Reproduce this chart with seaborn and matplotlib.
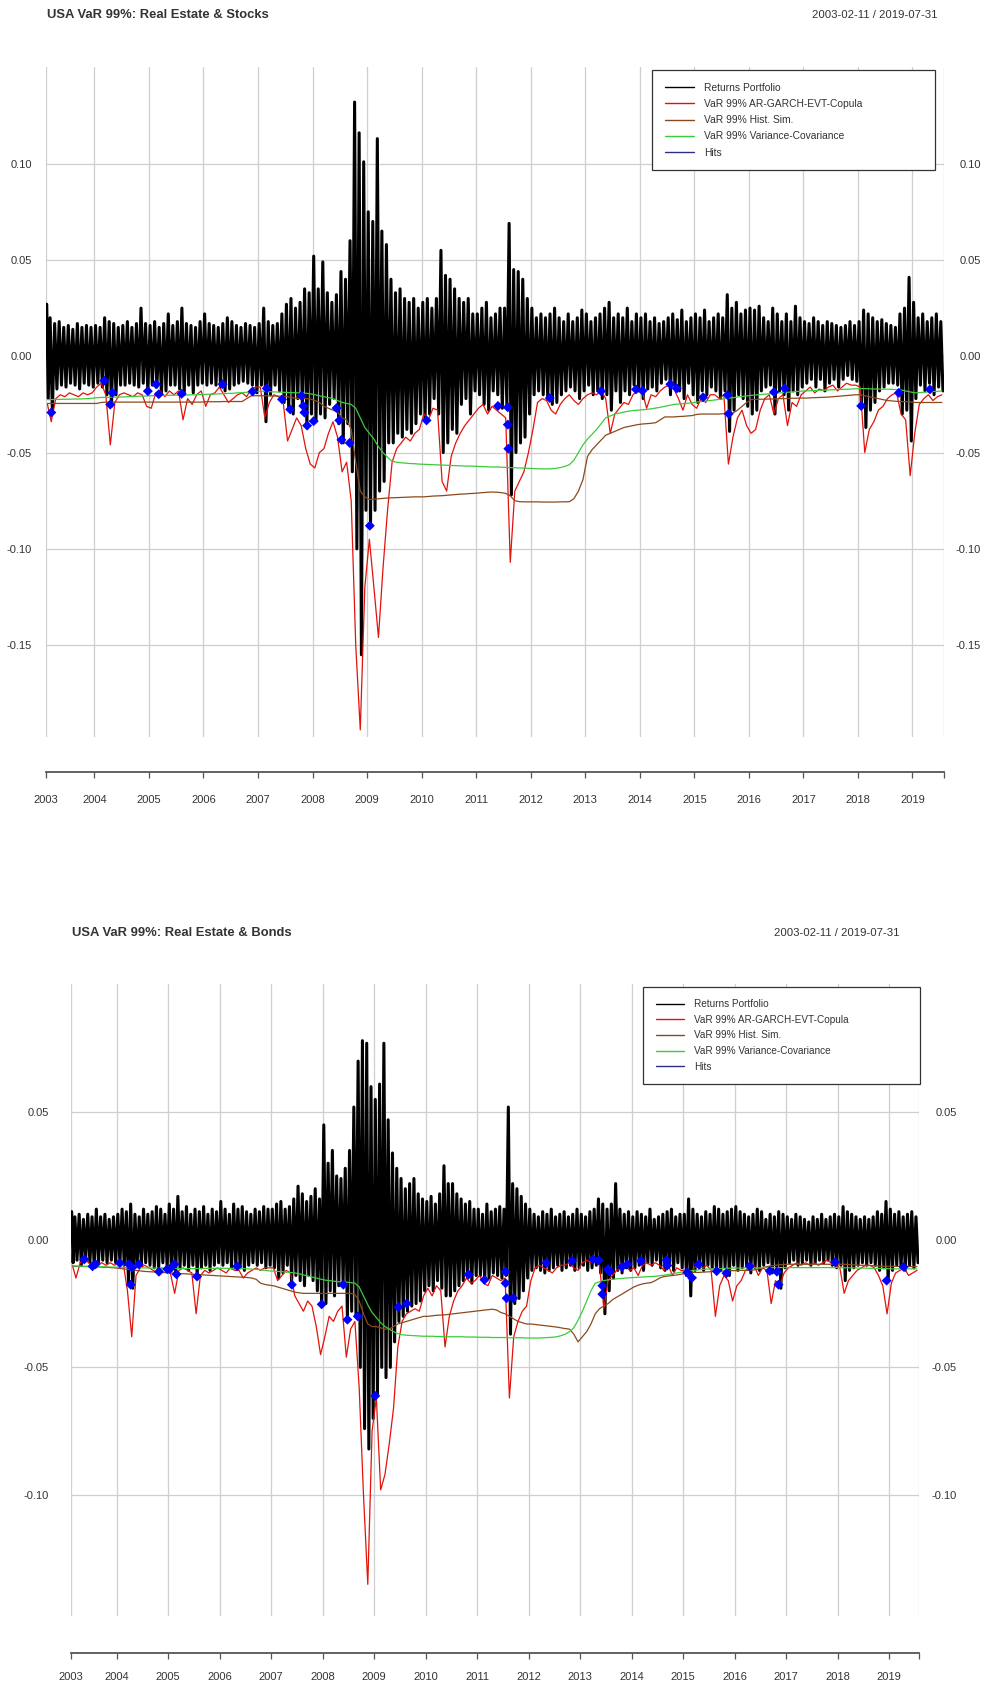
import numpy as np
import pandas as pd
import matplotlib
matplotlib.use("Agg")
import matplotlib.pyplot as plt
import matplotlib.transforms as mtrans
import seaborn as sns
from matplotlib.lines import Line2D

# ------------------------------------------------------------------
# DATA  (monthly values, in thousandths: -25 means -0.025)
# months run from 2003-02 to 2019-07 (11 + 15*12 + 7 = 198 months)
# ------------------------------------------------------------------
first_month = "2003-02"
last_month = "2019-07"
period_label = "2003-02-11 / 2019-07-31"
period_start = 2003 + 41 / 365   # 2003-02-11
period_end = 2019 + 211 / 365    # 2019-07-31
year_labels = [str(y) for y in range(2003, 2020)]

series_labels = ["Returns Portfolio", "VaR 99% AR-GARCH-EVT-Copula",
                 "VaR 99% Hist. Sim.", "VaR 99% Variance-Covariance", "Hits"]

# ---------------- Real Estate & Stocks ----------------
stocks_title = "USA VaR 99%: Real Estate & Stocks"
stocks_ret_high = [
    27, 20, 17, 18, 15, 16, 14, 17, 15, 16, 15,
    16, 15, 20, 18, 17, 15, 16, 18, 15, 17, 25, 17,
    16, 18, 15, 17, 22, 16, 18, 25, 17, 16, 15, 18,
    22, 17, 16, 15, 17, 20, 18, 16, 15, 17, 16, 15,
    17, 25, 18, 16, 17, 22, 27, 30, 25, 28, 35, 33,
    52, 35, 49, 33, 28, 32, 44, 40, 60, 132, 116, 101,
    75, 70, 113, 65, 58, 40, 33, 35, 30, 28, 30, 25,
    28, 30, 25, 30, 55, 42, 40, 35, 30, 28, 30, 22,
    22, 25, 28, 20, 22, 25, 25, 69, 45, 44, 40, 30,
    25, 20, 22, 20, 22, 25, 20, 18, 22, 18, 20, 24,
    22, 18, 20, 22, 25, 28, 20, 22, 20, 25, 18, 22,
    20, 22, 18, 20, 17, 18, 20, 22, 19, 24, 18, 20,
    22, 20, 24, 18, 20, 22, 20, 32, 25, 28, 22, 24,
    25, 24, 26, 20, 18, 25, 22, 18, 22, 18, 26, 20,
    18, 17, 20, 18, 16, 18, 17, 16, 15, 16, 18, 16,
    18, 24, 22, 20, 18, 19, 17, 16, 15, 22, 25, 41,
    28, 20, 22, 18, 20, 22, 18,
]
stocks_ret_low = [
    -22, -29, -17, -15, -16, -14, -15, -17, -14, -15, -16,
    -14, -16, -20, -26, -20, -15, -15, -14, -15, -16, -14, -18,
    -15, -16, -20, -18, -15, -15, -17, -20, -15, -19, -15, -14,
    -15, -14, -15, -16, -18, -17, -15, -14, -13, -14, -15, -19,
    -15, -34, -20, -15, -18, -24, -28, -30, -22, -26, -36, -30,
    -34, -30, -32, -25, -22, -35, -45, -35, -60, -100, -155, -80,
    -88, -80, -70, -65, -45, -45, -40, -42, -38, -40, -35, -30,
    -33, -30, -22, -30, -50, -45, -38, -40, -25, -22, -30, -18,
    -20, -25, -28, -18, -20, -27, -25, -72, -50, -45, -42, -30,
    -20, -18, -20, -22, -25, -24, -20, -18, -16, -18, -22, -18,
    -15, -20, -18, -22, -20, -28, -18, -24, -18, -20, -15, -18,
    -22, -17, -16, -18, -14, -12, -20, -17, -18, -22, -14, -20,
    -24, -18, -20, -16, -18, -22, -18, -39, -28, -20, -22, -26,
    -30, -28, -18, -16, -15, -30, -18, -20, -28, -18, -20, -16,
    -14, -12, -16, -12, -18, -14, -12, -16, -12, -10, -12, -13,
    -26, -37, -28, -24, -18, -16, -14, -14, -15, -30, -28, -44,
    -22, -15, -18, -14, -20, -16, -18,
]
stocks_var_copula = [
    -25, -34, -22, -20, -21, -19, -20, -21, -19, -20, -19,
    -16, -14, -20, -46, -24, -20, -19, -20, -21, -19, -20, -26,
    -27, -19, -18, -21, -18, -20, -18, -33, -22, -25, -20, -18,
    -26, -20, -19, -16, -20, -24, -22, -20, -19, -21, -17, -16,
    -16, -32, -24, -20, -21, -23, -44, -38, -32, -36, -48, -56,
    -58, -50, -48, -40, -34, -42, -60, -55, -75, -150, -194, -120,
    -95, -120, -146, -110, -80, -55, -48, -45, -42, -44, -40, -38,
    -30, -33, -27, -28, -65, -70, -52, -45, -40, -36, -33, -30,
    -27, -25, -30, -26, -28, -30, -32, -107, -70, -65, -60, -50,
    -38, -24, -22, -23, -28, -30, -25, -22, -20, -23, -25, -22,
    -20, -19, -20, -18, -22, -40, -30, -27, -24, -25, -20, -18,
    -18, -27, -20, -21, -18, -16, -15, -17, -22, -28, -20, -25,
    -27, -22, -24, -20, -20, -22, -20, -56, -42, -32, -28, -36,
    -40, -38, -28, -22, -20, -30, -22, -20, -36, -24, -26, -20,
    -18, -16, -19, -17, -18, -16, -15, -18, -16, -14, -15, -15,
    -16, -50, -38, -34, -28, -26, -22, -20, -19, -30, -33, -62,
    -40, -25, -22, -20, -23, -21, -20,
]
stocks_var_hist = [
    -24.5, -24.5, -24.5, -24.5, -24.5, -24.5, -24.5, -24.5, -24.5, -24.5, -24.5,
    -24.5, -24.0, -23.8, -23.8, -23.8, -23.8, -23.8, -23.8, -23.8, -23.8, -23.8, -23.8,
    -23.8, -23.8, -23.8, -23.8, -23.8, -23.8, -23.8, -23.8, -23.8, -23.8, -23.8, -23.8,
    -23.6, -23.6, -23.6, -23.6, -23.5, -23.5, -23.5, -23.5, -23.5, -22.0, -20.5, -20.5,
    -20.5, -20.5, -20.6, -20.6, -20.7, -20.8, -21.0, -21.5, -21.8, -22.0, -22.0, -22.2,
    -23.0, -24.0, -26.0, -27.0, -28.0, -29.0, -32.0, -33.0, -38.0, -55.0, -70.0, -73.0,
    -74.4, -74.2, -74.0, -73.8, -73.6, -73.5, -73.4, -73.3, -73.2, -73.1, -73.0, -73.0,
    -73.0, -72.8, -72.6, -72.5, -72.4, -72.2, -72.0, -71.8, -71.6, -71.5, -71.3, -71.2,
    -71.0, -70.8, -70.6, -70.5, -70.6, -70.8, -71.2, -72.5, -75.0, -75.5, -75.6, -75.6,
    -75.6, -75.6, -75.7, -75.7, -75.7, -75.7, -75.6, -75.6, -75.5, -74.0, -70.0, -64.0,
    -52.0, -48.5, -46.0, -43.5, -41.0, -40.0, -39.0, -38.0, -37.0, -36.5, -36.0, -35.5,
    -35.2, -35.0, -34.8, -34.5, -33.0, -31.5, -31.5, -31.5, -31.3, -31.2, -31.0, -30.8,
    -30.2, -30.0, -30.0, -30.0, -30.0, -30.0, -29.8, -29.5, -29.5, -28.0, -26.0, -24.0,
    -22.5, -22.4, -22.3, -22.3, -22.2, -22.2, -22.0, -22.0, -21.9, -21.8, -21.8, -21.7,
    -21.7, -21.6, -21.5, -21.4, -21.3, -21.2, -21.0, -20.8, -20.6, -20.4, -20.2, -20.0,
    -20.0, -20.5, -21.0, -21.5, -22.0, -22.5, -23.0, -23.2, -23.4, -23.5, -23.6, -23.7,
    -24.0, -24.0, -24.0, -24.0, -24.0, -24.0, -24.0,
]
stocks_var_varcov = [
    -22.5, -22.5, -22.4, -22.4, -22.3, -22.3, -22.2, -22.2, -22.1, -22.0, -21.8,
    -21.5, -21.4, -21.3, -21.3, -21.2, -21.2, -21.1, -21.0, -20.9, -20.8, -20.7, -20.6,
    -20.5, -20.4, -20.4, -20.3, -20.3, -20.2, -20.2, -20.1, -20.1, -20.0, -20.0, -19.9,
    -19.8, -19.7, -19.6, -19.5, -19.4, -19.3, -19.2, -19.0, -18.9, -18.7, -18.5, -18.3,
    -18.2, -18.3, -18.4, -18.5, -18.6, -18.7, -18.8, -18.9, -19.0, -19.0, -19.2, -19.5,
    -20.0, -20.5, -21.0, -21.5, -22.0, -23.0, -24.0, -24.5, -25.0, -27.0, -32.0, -37.0,
    -40.0, -43.0, -47.0, -50.0, -52.5, -54.5, -55.0, -55.3, -55.5, -55.7, -55.8, -56.0,
    -56.1, -56.2, -56.3, -56.4, -56.5, -56.6, -56.7, -56.8, -56.9, -57.0, -57.0, -57.1,
    -57.2, -57.3, -57.4, -57.5, -57.5, -57.6, -57.7, -57.8, -57.9, -58.0, -58.1, -58.2,
    -58.3, -58.4, -58.5, -58.5, -58.4, -58.2, -57.8, -57.2, -56.3, -54.0, -50.0, -46.0,
    -43.0, -40.5, -38.0, -35.0, -32.0, -31.0, -30.0, -29.5, -29.0, -28.5, -28.2, -28.0,
    -27.8, -27.6, -27.3, -26.9, -26.5, -26.0, -25.5, -25.0, -24.8, -24.6, -24.4, -24.2,
    -23.8, -23.5, -23.2, -23.0, -22.7, -22.4, -22.1, -21.8, -21.5, -21.2, -20.9, -20.6,
    -20.3, -20.1, -19.9, -19.7, -19.5, -19.3, -19.1, -18.9, -18.7, -18.5, -18.3, -18.1,
    -18.0, -17.9, -17.8, -17.7, -17.6, -17.5, -17.4, -17.3, -17.2, -17.1, -17.0, -16.9,
    -16.8, -16.8, -16.9, -17.0, -17.0, -17.1, -17.1, -17.2, -17.3, -17.5, -18.0, -18.5,
    -19.0, -18.9, -18.7, -18.5, -18.3, -18.2, -18.0,
]
stocks_hit_dates = [
    2003.21, 2004.18, 2004.29, 2004.33, 2004.98, 2005.13, 2005.18, 2005.60, 2006.35,
    2006.90, 2007.16, 2007.44, 2007.59, 2007.80, 2007.83, 2007.85, 2007.90, 2008.02,
    2008.44, 2008.49, 2008.53, 2008.68, 2009.05, 2010.09, 2011.40, 2011.58, 2011.58,
    2011.59, 2012.35, 2013.29, 2013.93, 2014.05, 2014.56, 2014.68, 2015.16, 2015.61,
    2015.63, 2016.46, 2016.66, 2018.06, 2018.75, 2019.32,
]
stocks_hit_values = [
    -29.2, -12.7, -25.1, -19.0, -18.1, -14.5, -19.7, -19.5, -14.5,
    -18.3, -16.7, -22.4, -27.6, -20.6, -25.8, -29.2, -36.0, -33.7,
    -26.9, -33.3, -43.4, -45.0, -88.0, -33.3, -25.8, -26.5, -35.5,
    -48.0, -21.7, -18.1, -17.2, -17.9, -14.5, -16.7, -21.3, -20.1,
    -29.9, -18.6, -16.7, -25.8, -19.0, -17.2,
]
stocks_yticks = [0.10, 0.05, 0.00, -0.05, -0.10, -0.15]
stocks_ylim = (-0.1977, 0.1502)

# ---------------- Real Estate & Bonds ----------------
bonds_title = "USA VaR 99%: Real Estate & Bonds"
bonds_ret_high = [
    11, 9, 10, 8, 10, 9, 12, 9, 10, 8, 9,
    10, 12, 11, 14, 10, 9, 12, 10, 11, 13, 12, 10,
    14, 12, 17, 11, 13, 10, 12, 11, 13, 10, 12, 11,
    15, 12, 10, 14, 12, 13, 11, 10, 12, 11, 13, 12,
    12, 14, 15, 12, 13, 16, 21, 18, 15, 17, 20, 16,
    45, 30, 35, 25, 24, 28, 35, 52, 70, 78, 77, 60,
    55, 61, 77, 47, 34, 28, 24, 20, 22, 24, 18, 16,
    15, 17, 14, 18, 29, 22, 22, 18, 16, 14, 15, 12,
    12, 10, 14, 11, 12, 13, 12, 52, 22, 20, 17, 14,
    12, 10, 9, 11, 10, 12, 9, 10, 11, 9, 10, 12,
    10, 9, 11, 12, 16, 14, 12, 14, 22, 12, 10, 11,
    9, 11, 10, 9, 12, 8, 9, 10, 11, 12, 9, 10,
    10, 16, 12, 10, 9, 11, 10, 13, 12, 10, 11, 12,
    13, 11, 10, 9, 10, 12, 11, 8, 10, 9, 11, 10,
    9, 8, 10, 9, 8, 7, 9, 8, 10, 8, 9, 10,
    9, 13, 11, 10, 9, 8, 9, 8, 9, 11, 10, 15,
    12, 10, 11, 9, 10, 11, 9,
]
bonds_ret_low = [
    -9, -8, -10, -8, -9, -10, -9, -8, -9, -8, -9,
    -9, -10, -17, -19, -10, -10, -9, -10, -11, -12, -9, -11,
    -12, -13, -11, -10, -12, -10, -14, -11, -10, -12, -10, -9,
    -10, -9, -11, -10, -11, -12, -10, -9, -10, -9, -11, -10,
    -11, -15, -13, -10, -17, -14, -16, -18, -14, -16, -20, -25,
    -25, -20, -22, -18, -17, -31, -28, -30, -50, -74, -82, -70,
    -61, -50, -54, -50, -40, -32, -30, -28, -26, -25, -24, -20,
    -18, -20, -16, -19, -22, -22, -20, -18, -16, -15, -17, -14,
    -14, -16, -15, -13, -14, -15, -14, -37, -25, -23, -20, -15,
    -12, -11, -12, -13, -12, -11, -10, -12, -11, -10, -12, -11,
    -10, -12, -11, -10, -13, -29, -20, -15, -12, -13, -11, -12,
    -11, -10, -12, -9, -10, -8, -11, -12, -10, -12, -9, -11,
    -14, -22, -12, -11, -12, -10, -11, -13, -12, -11, -14, -10,
    -12, -11, -10, -13, -11, -12, -10, -9, -13, -12, -19, -11,
    -9, -8, -10, -9, -8, -10, -9, -8, -9, -8, -10, -11,
    -10, -16, -12, -11, -10, -9, -10, -9, -10, -12, -11, -16,
    -12, -10, -11, -12, -10, -11, -9,
]
bonds_var_copula = [
    -10, -15, -9, -8, -9, -11, -10, -9, -10, -9, -10,
    -9, -9, -20, -38, -14, -11, -10, -11, -12, -13, -11, -12,
    -13, -21, -12, -11, -12, -13, -29, -14, -12, -13, -12, -11,
    -12, -13, -11, -12, -12, -15, -13, -12, -11, -12, -11, -11,
    -11, -16, -14, -12, -13, -22, -25, -28, -24, -26, -34, -45,
    -38, -30, -32, -28, -26, -46, -35, -32, -58, -100, -135, -75,
    -62, -98, -92, -80, -66, -42, -32, -29, -28, -27, -28, -22,
    -19, -22, -18, -20, -42, -30, -24, -20, -18, -15, -17, -16,
    -14, -17, -18, -14, -15, -16, -15, -62, -38, -32, -28, -26,
    -16, -11, -10, -11, -12, -13, -11, -10, -10, -9, -11, -12,
    -9, -8, -9, -8, -10, -27, -16, -14, -12, -11, -10, -12,
    -11, -14, -10, -9, -10, -9, -10, -12, -10, -14, -11, -12,
    -12, -15, -11, -10, -11, -10, -12, -30, -18, -14, -16, -24,
    -18, -16, -12, -11, -10, -14, -11, -12, -25, -16, -18, -13,
    -11, -10, -9, -10, -9, -10, -9, -10, -9, -8, -9, -10,
    -11, -21, -16, -14, -12, -11, -10, -10, -11, -14, -18, -29,
    -17, -13, -12, -11, -14, -13, -12,
]
bonds_var_hist = [
    -10.3, -10.4, -10.4, -10.5, -10.5, -10.6, -10.6, -10.7, -10.8, -10.9, -11.0,
    -11.2, -11.4, -11.6, -11.8, -12.0, -12.2, -12.4, -12.5, -12.6, -12.7, -12.8, -12.9,
    -13.0, -13.1, -13.2, -13.3, -13.4, -13.5, -13.6, -13.7, -13.8, -13.9, -14.0, -14.1,
    -14.2, -14.3, -14.4, -14.5, -14.6, -14.7, -14.8, -15.0, -15.5, -17.0, -17.5, -17.8,
    -18.0, -18.5, -19.0, -19.5, -20.0, -20.5, -20.8, -21.0, -21.0, -21.0, -21.0, -21.0,
    -21.0, -21.0, -21.0, -21.0, -21.0, -21.0, -21.0, -21.5, -24.0, -29.0, -33.0, -34.0,
    -34.0, -34.5, -35.0, -35.0, -34.0, -33.0, -32.5, -32.0, -31.5, -31.0, -30.5, -30.0,
    -30.0, -29.8, -29.6, -29.5, -29.4, -29.2, -29.0, -28.8, -28.6, -28.4, -28.2, -28.0,
    -27.8, -27.6, -27.4, -27.2, -27.5, -28.5, -29.0, -30.0, -31.0, -32.0, -32.5, -33.0,
    -33.0, -33.2, -33.4, -33.6, -33.8, -34.0, -34.2, -34.5, -34.8, -35.0, -37.0, -40.0,
    -38.0, -36.0, -33.0, -29.0, -27.0, -26.0, -25.0, -23.5, -22.5, -21.5, -20.5, -19.5,
    -18.5, -17.8, -17.3, -17.0, -16.8, -16.0, -15.0, -14.4, -14.2, -14.0, -13.8, -13.5,
    -13.2, -13.0, -12.8, -12.8, -12.7, -12.6, -12.5, -12.4, -12.3, -12.2, -12.2, -12.1,
    -12.1, -12.0, -12.0, -12.0, -11.8, -11.5, -11.0, -10.5, -10.2, -10.0, -9.8, -9.7,
    -9.6, -9.6, -9.6, -9.6, -9.6, -9.6, -9.6, -9.6, -9.6, -9.6, -9.6, -9.6,
    -9.6, -9.6, -9.7, -9.8, -9.9, -10.0, -10.0, -10.1, -10.2, -10.3, -10.4, -10.4,
    -10.4, -10.4, -10.5, -10.5, -10.5, -10.5, -10.5,
]
bonds_var_varcov = [
    -10.2, -10.3, -10.3, -10.4, -10.4, -10.5, -10.5, -10.6, -10.6, -10.7, -10.7,
    -10.8, -10.8, -10.9, -10.9, -11.0, -11.0, -11.0, -11.1, -11.1, -11.1, -11.2, -11.2,
    -11.2, -11.2, -11.3, -11.3, -11.3, -11.3, -11.3, -11.3, -11.2, -11.2, -11.2, -11.2,
    -11.2, -11.2, -11.2, -11.2, -11.3, -11.3, -11.4, -11.5, -11.6, -11.8, -12.0, -12.2,
    -12.3, -12.4, -12.5, -12.7, -12.8, -13.0, -13.3, -13.8, -14.2, -14.6, -15.0, -15.4,
    -15.8, -16.0, -16.2, -16.4, -16.5, -16.6, -16.8, -17.0, -18.5, -22.0, -25.5, -28.5,
    -30.5, -32.5, -34.0, -35.0, -36.0, -36.8, -37.2, -37.4, -37.5, -37.6, -37.7, -37.8,
    -37.8, -37.8, -37.9, -37.9, -38.0, -38.0, -38.0, -38.0, -38.0, -38.1, -38.1, -38.1,
    -38.2, -38.2, -38.2, -38.3, -38.3, -38.3, -38.3, -38.4, -38.4, -38.4, -38.4, -38.5,
    -38.5, -38.5, -38.5, -38.4, -38.3, -38.2, -38.0, -37.6, -37.0, -36.0, -34.5, -31.5,
    -28.0, -24.0, -20.0, -17.0, -16.5, -16.0, -15.7, -15.5, -15.3, -15.2, -15.0, -14.9,
    -14.8, -14.7, -14.6, -14.5, -14.4, -14.3, -14.1, -13.9, -13.6, -13.3, -13.0, -12.7,
    -12.4, -12.2, -12.0, -11.8, -11.6, -11.5, -11.4, -11.3, -11.3, -11.2, -11.2, -11.1,
    -11.1, -11.1, -11.0, -11.0, -11.0, -11.0, -10.9, -10.9, -10.9, -10.9, -10.9, -10.9,
    -10.9, -10.9, -10.9, -10.9, -10.9, -10.9, -10.9, -10.9, -10.9, -10.9, -10.9, -10.9,
    -10.9, -11.0, -11.0, -11.0, -11.1, -11.1, -11.1, -11.2, -11.2, -11.2, -11.3, -11.3,
    -11.4, -11.4, -11.4, -11.4, -11.4, -11.4, -11.4,
]
bonds_hit_dates = [
    2003.37, 2003.53, 2003.59, 2004.06, 2004.24, 2004.27, 2004.30, 2004.43, 2004.82,
    2004.98, 2005.03, 2005.12, 2005.16, 2005.56, 2006.34, 2007.40, 2007.98, 2008.40,
    2008.48, 2008.68, 2009.02, 2009.47, 2009.63, 2010.83, 2011.14, 2011.55, 2011.55,
    2011.57, 2011.70, 2012.34, 2012.84, 2013.25, 2013.36, 2013.43, 2013.43, 2013.54,
    2013.57, 2013.81, 2013.92, 2014.18, 2014.68, 2014.69, 2015.08, 2015.17, 2015.30,
    2015.65, 2015.84, 2016.29, 2016.68, 2016.82, 2016.85, 2017.95, 2018.95, 2019.28,
]
bonds_hit_values = [
    -7.7, -10.4, -9.6, -9.1, -9.6, -17.6, -10.9, -9.6, -12.5,
    -11.5, -11.5, -9.6, -13.5, -14.4, -10.4, -17.6, -25.3, -17.6,
    -31.3, -30.0, -61.2, -26.4, -25.0, -13.6, -15.7, -12.5, -17.0,
    -22.9, -22.9, -9.1, -8.3, -7.7, -8.0, -18.0, -21.3, -11.5,
    -12.5, -10.6, -9.6, -8.3, -8.0, -10.1, -12.8, -14.9, -9.6,
    -12.3, -13.1, -10.4, -12.2, -12.5, -17.6, -8.8, -16.0, -10.6,
]
bonds_yticks = [0.05, 0.00, -0.05, -0.10]
bonds_ylim = (-0.1474, 0.1002)

# ------------------------------------------------------------------
# STYLE
# ------------------------------------------------------------------
C_RET = "#000000"
C_COP = "#E3120B"
C_HIST = "#8B4A1C"
C_VC = "#3CCB3C"
C_HIT = "#0000FF"
C_HIT_LEG = "#2E2E8A"
C_TEXT = "#333333"
C_GRID = "#CFCFCF"

sns.set_theme(style="white")
plt.rcParams["font.family"] = ["Liberation Sans", "DejaVu Sans"]
plt.rcParams["axes.unicode_minus"] = False

W, H = 986, 1686
fig = plt.figure(figsize=(W / 100, H / 100), dpi=100)


def px_box(left, top, right, bottom):
    return [left / W, 1 - bottom / H, (right - left) / W, (bottom - top) / H]


months = pd.period_range(first_month, last_month, freq="M")
m_left = np.maximum(months.year + (months.month - 1) / 12.0, period_start)
m_right = np.minimum(months.year + months.month / 12.0, period_end)
m_mid = (m_left + m_right) / 2.0


def draw_panel(cfg):
    hi = np.asarray(cfg["ret_high"], float) / 1000
    lo = np.asarray(cfg["ret_low"], float) / 1000
    cop = np.asarray(cfg["cop"], float) / 1000
    hist = np.asarray(cfg["hist"], float) / 1000
    vc = np.asarray(cfg["vc"], float) / 1000
    for arr in (hi, lo, cop, hist, vc):
        assert len(arr) == len(months), len(arr)
    hx = np.asarray(cfg["hit_x"], float)
    hy = np.asarray(cfg["hit_y"], float) / 1000

    ax = fig.add_axes(px_box(*cfg["box"]))
    ax.set_axisbelow(True)

    # returns: monthly high/low drawn as a dense zig-zag
    w = m_right - m_left
    zx = np.column_stack([m_left + 0.25 * w, m_left + 0.75 * w]).ravel()
    zy = np.column_stack([hi, lo]).ravel()
    sns.lineplot(x=zx, y=zy, sort=False, estimator=None, color=C_RET,
                 lw=2.2, ax=ax, zorder=2)
    sns.lineplot(x=m_mid, y=cop, sort=False, estimator=None, color=C_COP,
                 lw=0.9, ax=ax, zorder=3)
    sns.lineplot(x=m_mid, y=hist, sort=False, estimator=None, color=C_HIST,
                 lw=0.9, ax=ax, zorder=3.1)
    sns.lineplot(x=m_mid, y=vc, sort=False, estimator=None, color=C_VC,
                 lw=0.9, ax=ax, zorder=3.2)
    sns.scatterplot(x=hx, y=hy, marker="D", s=26, color=C_HIT,
                    edgecolor="none", ax=ax, zorder=5)

    ax.set_xlim(period_start, period_end)
    ax.set_ylim(*cfg["ylim"])

    xt = [period_start] + list(range(2004, 2020)) + [period_end]
    ax.set_xticks(xt)
    ax.set_xticklabels(year_labels + [""])
    ax.set_yticks(cfg["yticks"])
    ax.set_yticklabels([f"{v:.2f}" for v in cfg["yticks"]])

    ax.grid(True, color=C_GRID, lw=0.9)
    for s in ("left", "right", "top"):
        ax.spines[s].set_visible(False)
    ax.spines["bottom"].set_position(("outward", cfg["axis_gap"] * 0.72))
    ax.spines["bottom"].set_color("#555555")
    ax.spines["bottom"].set_linewidth(1.3)

    ax.tick_params(axis="x", bottom=True, direction="out", length=4.3,
                   width=0.9, color="#555555", pad=cfg["xpad"],
                   labelsize=8, labelcolor=C_TEXT)
    ax.tick_params(axis="y", length=0, labelleft=True, labelright=True,
                   labelsize=8, labelcolor=C_TEXT, pad=cfg["ypad_left"])
    off = mtrans.ScaledTranslation(cfg["ypad_right"] / 72.0, 0, fig.dpi_scale_trans)
    for t in ax.yaxis.get_major_ticks():
        t.label1.set_horizontalalignment("right")
        t.label2.set_horizontalalignment("right")
        t.label2.set_transform(ax.get_yaxis_transform(which="tick2") + off)
    ax.set_xlabel("")
    ax.set_ylabel("")

    # titles
    fig.text(cfg["title_xy"][0] / W, 1 - cfg["title_xy"][1] / H, cfg["title"],
             ha="left", va="center", fontsize=9.4, fontweight="bold", color=C_TEXT)
    fig.text(cfg["date_xy"][0] / W, 1 - cfg["date_xy"][1] / H, period_label,
             ha="right", va="center", fontsize=8.2, color=C_TEXT)

    # legend
    handles = [Line2D([], [], color=c, lw=1.0)
               for c in (C_RET, C_COP, C_HIST, C_VC, C_HIT_LEG)]
    lx0, ltop, lx1 = cfg["legend"]
    leg = ax.legend(handles, series_labels, loc="upper left",
                    bbox_to_anchor=(lx0 / W, 1 - ltop / H, (lx1 - lx0) / W, 0),
                    bbox_transform=fig.transFigure, mode="expand",
                    fontsize=cfg["leg_fs"], frameon=True, fancybox=False,
                    edgecolor="#333333", framealpha=1, borderpad=1.25,
                    handlelength=2.8, handletextpad=1.05,
                    labelspacing=cfg["leg_ls"], borderaxespad=0)
    leg.get_frame().set_linewidth(0.9)
    for t in leg.get_texts():
        t.set_color(C_TEXT)
    leg.set_zorder(10)
    return ax


stocks_cfg = dict(
    title=stocks_title, ret_high=stocks_ret_high, ret_low=stocks_ret_low,
    cop=stocks_var_copula, hist=stocks_var_hist, vc=stocks_var_varcov,
    hit_x=stocks_hit_dates, hit_y=stocks_hit_values,
    yticks=stocks_yticks, ylim=stocks_ylim,
    box=(46, 67, 944, 737), axis_gap=35, xpad=12,
    ypad_left=10, ypad_right=26.6,
    title_xy=(47, 15), date_xy=(937, 15),
    legend=(652, 70, 935), leg_fs=7.4, leg_ls=0.6,
)
bonds_cfg = dict(
    title=bonds_title, ret_high=bonds_ret_high, ret_low=bonds_ret_low,
    cop=bonds_var_copula, hist=bonds_var_hist, vc=bonds_var_varcov,
    hit_x=bonds_hit_dates, hit_y=bonds_hit_values,
    yticks=bonds_yticks, ylim=bonds_ylim,
    box=(71, 984, 919, 1616), axis_gap=37, xpad=9.5,
    ypad_left=15.8, ypad_right=27.4,
    title_xy=(72, 933), date_xy=(899, 933),
    legend=(643, 987, 920), leg_fs=7.2, leg_ls=0.55,
)

draw_panel(stocks_cfg)
draw_panel(bonds_cfg)

fig.savefig("out.png", dpi=100, facecolor="white")
